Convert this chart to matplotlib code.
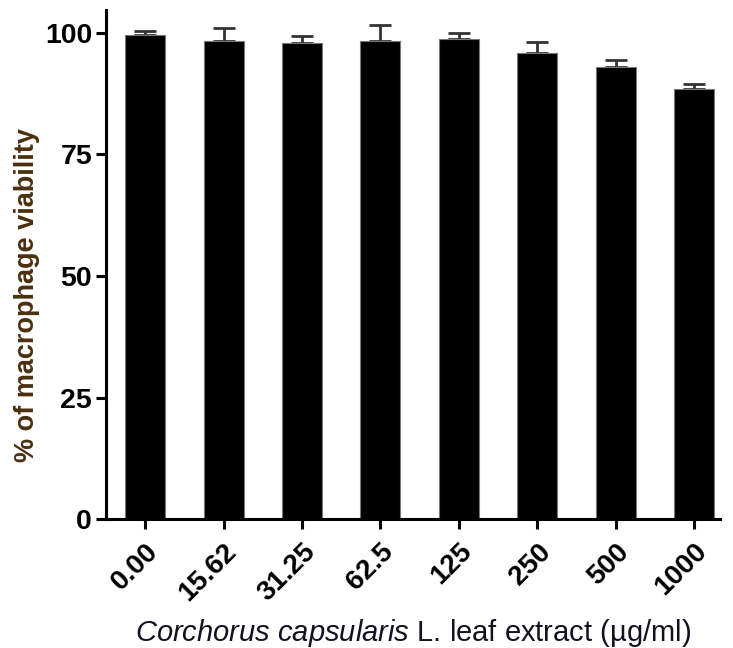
import numpy as np
import matplotlib.pyplot as plt

plt.rcParams['font.family'] = ['Liberation Sans', 'DejaVu Sans']
plt.rcParams['mathtext.fontset'] = 'custom'
plt.rcParams['mathtext.it'] = 'Liberation Sans:italic'
plt.rcParams['mathtext.rm'] = 'Liberation Sans'

doses = ['0.00', '15.62', '31.25', '62.5', '125', '250', '500', '1000']
viability = [99.6, 98.3, 97.9, 98.3, 98.8, 95.9, 93.0, 88.5]
sd = [0.7, 2.8, 1.5, 3.3, 1.1, 2.2, 1.4, 1.0]

fig = plt.figure(figsize=(7.33, 6.48), dpi=100)
ax = fig.add_axes([106/733, 0.199, 614/733, 509/648])

x = np.arange(len(doses))
ax.bar(x, viability, width=0.51, color='black', edgecolor='#777777', linewidth=0.8, zorder=2)
ax.errorbar(x, viability, yerr=[np.zeros(len(sd)), sd], fmt='none', ecolor='#333333',
            elinewidth=2, capsize=8, capthick=2, zorder=1)

ax.set_xlim(-0.5, 7.33)
ax.set_ylim(0, 104.7)
ax.set_yticks([0, 25, 50, 75, 100])
ax.set_xticks(x)
ax.set_xticklabels(doses, rotation=45, ha='right', rotation_mode='anchor',
                   fontsize=20, fontweight='bold')
for t in ax.get_yticklabels():
    t.set_fontsize(20.5)
    t.set_fontweight('bold')

for s in ['top', 'right']:
    ax.spines[s].set_visible(False)
for s in ['left', 'bottom']:
    ax.spines[s].set_linewidth(2.2)
ax.tick_params(axis='both', length=7, width=2.2, pad=3)
ax.tick_params(axis='x', pad=7)

ax.set_ylabel('% of macrophage viability', fontsize=19.5, fontweight='bold', color='#4b3010')
ax.yaxis.set_label_coords(-0.108, 0.44)
ax.set_xlabel(r'$\it{Corchorus\ capsularis}$ L. leaf extract (µg/ml)', fontsize=21,
              color='#111122', labelpad=8)

fig.savefig('out.png', dpi=100)
